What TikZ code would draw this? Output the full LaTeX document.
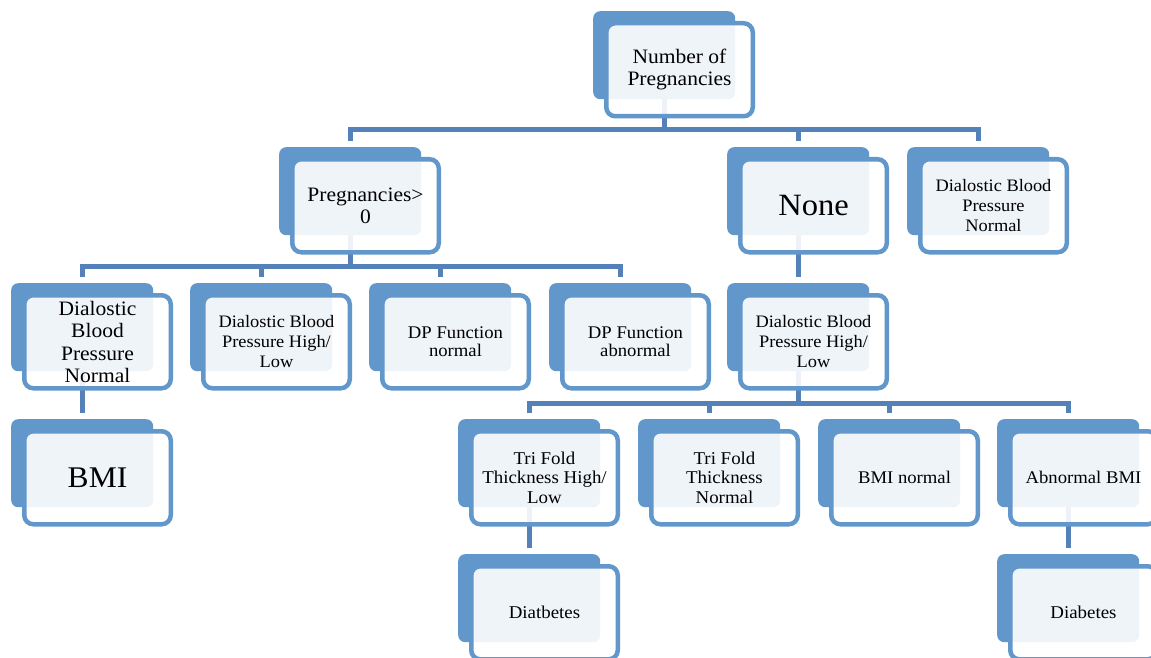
\documentclass[tikz,border=0pt]{standalone}
\usepackage{fontspec}
\setmainfont[FakeStretch=1.05]{Liberation Serif}
\usetikzlibrary{calc}
\definecolor{boxblue}{HTML}{6297CB}
\definecolor{connblue}{HTML}{5482B8}
\tikzset{
  backbox/.style={draw=none, fill=boxblue, rounded corners=7pt, minimum width=142pt, minimum height=88pt, inner sep=0pt, anchor=north west},
  frontbox/.style={draw=boxblue, line width=4.5pt, fill=white, fill opacity=0.9, text opacity=1, rounded corners=9pt, minimum width=146.5pt, minimum height=93pt, inner sep=0pt, align=center, text=black},
  conn/.style={draw=connblue, line width=5pt},
}
\newcommand\backel[3]{\node[backbox] (b#1) at (#2,-#3) {};}
\newcommand\frontel[6]{\node[frontbox, font={\fontsize{#4}{#5}\selectfont}] (#1) at ($(#2,-#3)+(86.5,-58.75)$) {#6};}
\begin{document}
\begin{tikzpicture}[x=1pt,y=1pt]
\useasboundingbox (0,0) rectangle (1151,-658);
\fill[white] (0,0) rectangle (1151,-658);
\clip (0,0) rectangle (1151,-658);
% back plates
\backel{top}{593}{11}
\backel{preg}{279}{147}
\backel{none}{727}{147}
\backel{dbpn}{907}{147}
\backel{ra}{11}{283}
\backel{rb}{190}{283}
\backel{rc}{369}{283}
\backel{rd}{549}{283}
\backel{dbphl}{727}{283}
\backel{bmi}{11}{419}
\backel{sa}{458}{419}
\backel{sb}{638}{419}
\backel{sc}{818}{419}
\backel{sd}{997}{419}
\backel{diat}{458}{554}
\backel{diab}{997}{554}
% bars
\coordinate (barA) at (0,-130);
\coordinate (barB) at (0,-266);
\coordinate (barC) at (0,-403);
% connectors
\foreach \c in {preg,none,dbpn}
  \draw[conn] (btop.south) -- (btop.south |- barA) -| ($(b\c.north)+(0,6)$);
\foreach \c in {ra,rb,rc,rd}
  \draw[conn] (bpreg.south) -- (bpreg.south |- barB) -| ($(b\c.north)+(0,6)$);
\foreach \c in {sa,sb,sc,sd}
  \draw[conn] (bdbphl.south) -- (bdbphl.south |- barC) -| ($(b\c.north)+(0,6)$);
\draw[conn] (bnone.south) -- ($(bdbphl.north)+(0,6)$);
\draw[conn] (bra.south) -- ($(bbmi.north)+(0,6)$);
\draw[conn] (bsa.south) -- ($(bdiat.north)+(0,6)$);
\draw[conn] (bsd.south) -- ($(bdiab.north)+(0,6)$);
% front plates with text
\frontel{top}{593}{11}{20.5}{22}{Number of\\Pregnancies}
\frontel{preg}{279}{147}{20.5}{22}{Pregnancies>\\0}
\frontel{none}{727}{147}{31}{34}{None}
\frontel{dbpn}{907}{147}{17.5}{20}{Dialostic Blood\\Pressure\\Normal}
\frontel{ra}{11}{283}{20.5}{22.5}{Dialostic\\Blood\\Pressure\\Normal}
\frontel{rb}{190}{283}{17.5}{20}{Dialostic Blood\\Pressure High/\\Low}
\frontel{rc}{369}{283}{17.8}{18.5}{DP Function\\normal}
\frontel{rd}{549}{283}{17.8}{18.5}{DP Function\\abnormal}
\frontel{dbphl}{727}{283}{17.5}{20}{Dialostic Blood\\Pressure High/\\Low}
\frontel{bmi}{11}{419}{30}{33}{BMI}
\frontel{sa}{458}{419}{18}{19.5}{Tri Fold\\Thickness High/\\Low}
\frontel{sb}{638}{419}{18}{19.5}{Tri Fold\\Thickness\\Normal}
\frontel{sc}{818}{419}{17.8}{19.5}{BMI normal}
\frontel{sd}{997}{419}{17.8}{19.5}{Abnormal BMI}
\frontel{diat}{458}{554}{18}{19.5}{Diatbetes}
\frontel{diab}{997}{554}{18}{19.5}{Diabetes}
\end{tikzpicture}
\end{document}
